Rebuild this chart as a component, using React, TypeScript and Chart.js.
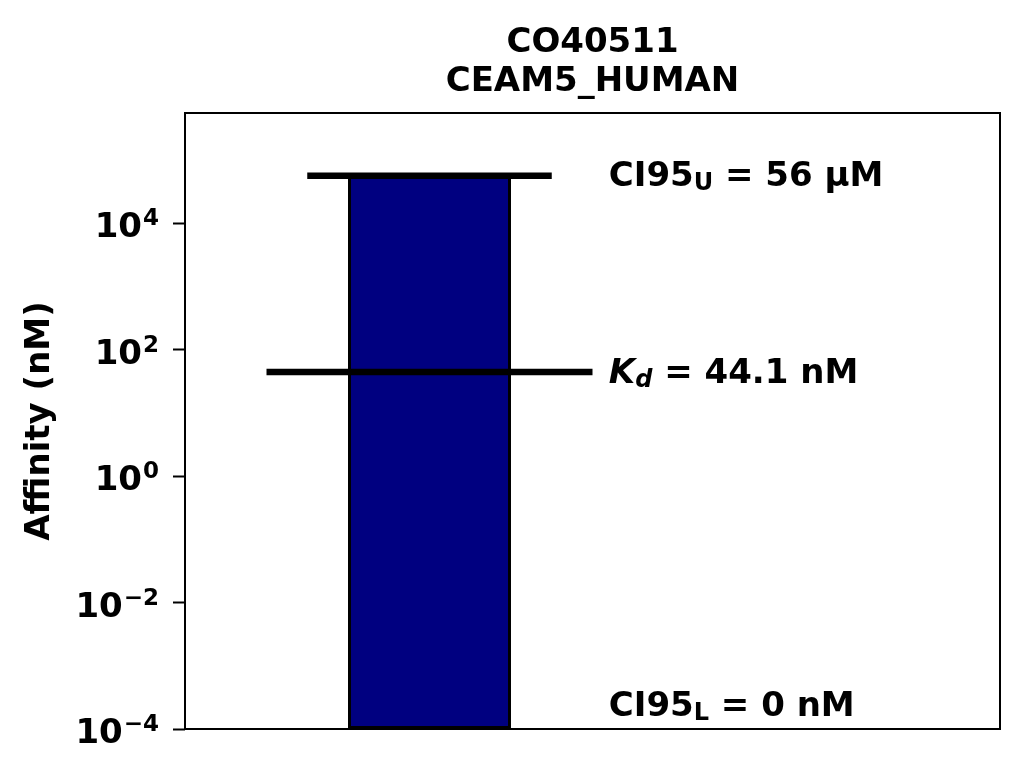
import { useEffect, useRef } from "react";
import {
  Chart,
  type ChartConfiguration,
  type Plugin,
  registerables,
} from "chart.js";

Chart.register(...registerables);

// chart data (affinities in nM)
const titleLines = ["CO40511", "CEAM5_HUMAN"];
const yAxisLabel = "Affinity (nM)";
const yTickValues = [1e-4, 1e-2, 1, 1e2, 1e4];
const yLimits = [1e-4, 5.5e5];
const xLimits = [-1.5, 3.5];

const barCenters = [0];
const barWidths = [1];
const ci95Upper = [56000];
const ci95Lower = [0];
const kdValues = [44.1];

// half widths of the two horizontal markers, in bar units
const ciLineHalf = [0.75];
const kdLineHalf = [1];
const labelX = [1.1];

const FONT = '"DejaVu Sans", sans-serif';
const MAIN_SIZE = 34;
const SUB_SIZE = 24;
const TICK_LENGTH = 12;

type Run = { text: string; sub?: boolean; italic?: boolean };

function drawRuns(
  ctx: CanvasRenderingContext2D,
  runs: Run[],
  x: number,
  baseline: number,
) {
  let cx = x;
  for (const run of runs) {
    const size = run.sub ? SUB_SIZE : MAIN_SIZE;
    ctx.font = `${run.italic ? "italic " : ""}bold ${size}px ${FONT}`;
    ctx.fillText(run.text, cx, baseline + (run.sub ? 4 : 0));
    cx += ctx.measureText(run.text).width;
  }
}

const labelsPlugin: Plugin<"bar"> = {
  id: "affinityLabels",
  afterDatasetsDraw(chart) {
    const { ctx, chartArea, scales } = chart;
    const x = scales.x.getPixelForValue(labelX[0]);

    ctx.save();
    ctx.fillStyle = "#000000";
    ctx.textAlign = "left";
    ctx.textBaseline = "alphabetic";

    // y tick labels as 10 with a raised exponent
    const right = chartArea.left - TICK_LENGTH - 14;
    for (const value of yTickValues) {
      const y = scales.y.getPixelForValue(value);
      const exp = String(Math.round(Math.log10(value))).replace("-", "\u2212");
      ctx.font = `bold 23px ${FONT}`;
      const expWidth = ctx.measureText(exp).width;
      ctx.fillText(exp, right - expWidth, y + 14 - 11.7);
      ctx.font = `bold ${MAIN_SIZE}px ${FONT}`;
      const baseWidth = ctx.measureText("10").width;
      ctx.fillText("10", right - expWidth - baseWidth - 1, y + 14);
    }

    const rows: { y: number; runs: Run[] }[] = [
      {
        y: scales.y.getPixelForValue(ci95Upper[0]),
        runs: [
          { text: "CI95" },
          { text: "U", sub: true },
          { text: ` = ${ci95Upper[0] / 1000} \u00b5M` },
        ],
      },
      {
        y: scales.y.getPixelForValue(kdValues[0]),
        runs: [
          { text: "K", italic: true },
          { text: "d", italic: true, sub: true },
          { text: ` = ${kdValues[0]} nM` },
        ],
      },
      {
        // lower bound is zero, off the log axis: pin it near the bottom
        y: chartArea.bottom - 24,
        runs: [
          { text: "CI95" },
          { text: "L", sub: true },
          { text: ` = ${ci95Lower[0]} nM` },
        ],
      },
    ];

    for (const row of rows) {
      drawRuns(ctx, row.runs, x, row.y + 10.5);
    }

    // axes frame
    ctx.lineWidth = 2;
    ctx.strokeStyle = "#000000";
    ctx.strokeRect(chartArea.left, chartArea.top, chartArea.width, chartArea.height);
    ctx.restore();
  },
};

function hline(center: number, half: number, value: number) {
  return [
    { x: center - half, y: value },
    { x: center + half, y: value },
  ];
}

function getConfig(): ChartConfiguration {
  const boldFont = { family: FONT, size: MAIN_SIZE, weight: "bold" as const };

  return {
    type: "bar",
    data: {
      datasets: [
        {
          type: "bar",
          label: "CI95 range",
          data: barCenters.map((c, i) => ({ x: c, y: ci95Upper[i] })),
          backgroundColor: "#000080",
          borderColor: "#000000",
          borderWidth: 3,
          borderSkipped: false,
          barPercentage: barWidths[0] / (xLimits[1] - xLimits[0]),
          categoryPercentage: 1,
          order: 2,
        },
        {
          type: "line",
          label: "CI95 upper",
          data: hline(barCenters[0], ciLineHalf[0], ci95Upper[0]),
          borderColor: "#000000",
          borderWidth: 6.5,
          borderCapStyle: "butt",
          pointRadius: 0,
          order: 1,
        },
        {
          type: "line",
          label: "Kd",
          data: hline(barCenters[0], kdLineHalf[0], kdValues[0]),
          borderColor: "#000000",
          borderWidth: 6.5,
          borderCapStyle: "butt",
          pointRadius: 0,
          order: 0,
        },
      ],
    } as ChartConfiguration["data"],
    options: {
      animation: false,
      responsive: true,
      maintainAspectRatio: false,
      events: [],
      layout: {
        padding: { top: 0, bottom: 46, left: 0, right: 24 },
      },
      plugins: {
        legend: { display: false },
        tooltip: { enabled: false },
        title: {
          display: true,
          text: titleLines,
          fullSize: false,
          color: "#000000",
          font: { ...boldFont, lineHeight: 39.6 / MAIN_SIZE },
          padding: { top: 23, bottom: 10.8 },
        },
      },
      scales: {
        x: {
          type: "linear",
          display: false,
          min: xLimits[0],
          max: xLimits[1],
          offset: false,
          grid: { offset: false },
          afterBuildTicks(scale) {
            scale.ticks = [];
          },
        },
        y: {
          type: "logarithmic",
          min: yLimits[0],
          max: yLimits[1],
          afterBuildTicks(scale) {
            scale.ticks = yTickValues.map((value) => ({ value }));
          },
          afterFit(scale) {
            scale.width = 185;
          },
          border: { display: false },
          grid: {
            display: true,
            drawOnChartArea: false,
            drawTicks: true,
            tickLength: TICK_LENGTH,
            tickWidth: 2,
            tickColor: "#000000",
          },
          ticks: {
            display: false,
            autoSkip: false,
          },
          title: {
            display: true,
            text: yAxisLabel,
            color: "#000000",
            font: boldFont,
            padding: { top: 20, bottom: 0 },
          },
        },
      },
    },
    plugins: [labelsPlugin as Plugin],
  };
}

function AffinityChart() {
  const canvasRef = useRef<HTMLCanvasElement>(null);

  useEffect(() => {
    if (!canvasRef.current) {
      return;
    }

    const chart = new Chart(canvasRef.current, getConfig());

    return () => {
      chart.destroy();
    };
  }, []);

  return <canvas ref={canvasRef} />;
}

export default function App() {
  return (
    <div
      style={{
        position: "absolute",
        left: 0,
        top: 0,
        width: 1024,
        height: 775,
        background: "#ffffff",
      }}
    >
      <AffinityChart />
    </div>
  );
}
